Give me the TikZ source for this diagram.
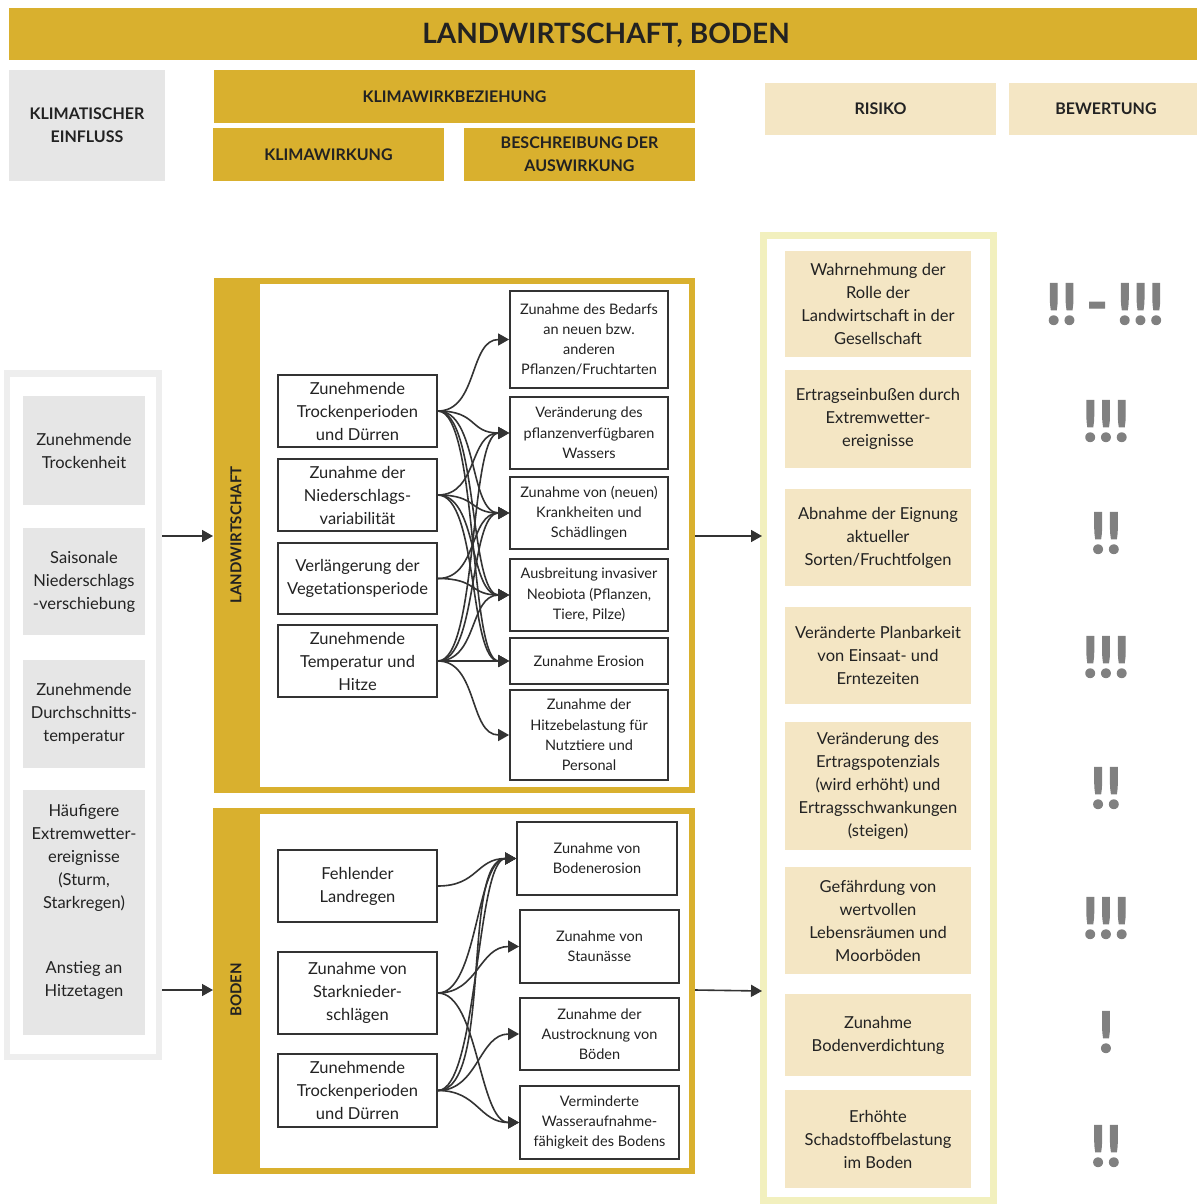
\documentclass[tikz,border=0pt]{standalone}
\usepackage{fontspec}
\setmainfont{Lato}
\newfontfamily\markfont[BoldFeatures={FakeBold=2.5}]{Lato}
\usetikzlibrary{arrows.meta}
\definecolor{gold}{RGB}{217,176,46}
\definecolor{graybox}{RGB}{230,230,230}
\definecolor{grayframe}{RGB}{238,238,238}
\definecolor{beige}{RGB}{244,230,196}
\definecolor{paleyellow}{RGB}{242,240,190}
\definecolor{txt}{RGB}{34,34,34}
\definecolor{lineclr}{RGB}{51,51,51}
\definecolor{mark}{RGB}{128,128,128}
\newcommand\myconn[2]{\draw[conn] (#1.east) .. controls +(40,0) and +(-40,0) .. (#2.west);}
\begin{document}
\begin{tikzpicture}[x=1pt,y=-1pt,
  hdr/.style={font=\bfseries\fontsize{16}{23}\selectfont, text=txt, align=center},
  ibox/.style={draw=lineclr, line width=1.8pt, fill=white, align=center, inner sep=2pt, text=txt, font=\fontsize{16.5}{23}\selectfont, minimum width=159pt},
  sbox/.style={draw=lineclr, line width=1.8pt, fill=white, align=center, inner sep=2pt, text=txt, font=\fontsize{14.5}{20.3}\selectfont, minimum width=158pt},
  gbox/.style={fill=graybox, align=center, text=txt, font=\fontsize{16.5}{23}\selectfont},
  rbox/.style={fill=beige, align=center, text=txt, font=\fontsize{16.5}{23}\selectfont, minimum width=186pt},
  mk/.style={text=mark, font=\markfont\bfseries\fontsize{56}{60}\selectfont, inner sep=0pt},
  conn/.style={draw=lineclr, line width=1.6pt, -{Triangle[length=11pt,width=12pt]}}
]
\useasboundingbox (0,0) rectangle (1197,1204);
% title
\fill[gold] (9,8) rectangle (1197,60);
\node[text=txt, font=\bfseries\fontsize{28}{30}\selectfont] (title) at (606,35) {LANDWIRTSCHAFT, BODEN};
% header row
\fill[graybox] (9,70) rectangle (165,181);
\node[hdr] (hkl) at (87,125.5) {KLIMATISCHER\\EINFLUSS};
\fill[gold] (214,70) rectangle (695,123);
\node[hdr] (hkwb) at (454.5,96.5) {KLIMAWIRKBEZIEHUNG};
\fill[gold] (213,128) rectangle (444,181);
\node[hdr] (hkw) at (328.5,154.5) {KLIMAWIRKUNG};
\fill[gold] (464,128) rectangle (695,181);
\node[hdr] (hbes) at (579.5,154.5) {BESCHREIBUNG DER\\AUSWIRKUNG};
\fill[beige] (765,83) rectangle (996,135);
\node[hdr] (hris) at (880.5,109) {RISIKO};
\fill[beige] (1009,83) rectangle (1197,135);
\node[hdr] (hbew) at (1106,109) {BEWERTUNG};

% left frame
\fill[grayframe] (4,370) rectangle (162,1060);
\fill[white] (10,377) rectangle (156,1054);
\node[gbox, minimum width=122pt, minimum height=109pt] (k1) at (84,450.5) {Zunehmende\\Trockenheit};
\node[gbox, minimum width=122pt, minimum height=107pt] (k2) at (84,581.5) {Saisonale\\Niederschlags\\-verschiebung};
\node[gbox, minimum width=122pt, minimum height=108pt] (k3) at (84,714) {Zunehmende\\Durchschnitts-\\temperatur};
\fill[graybox] (23,790) rectangle (145,1035);
\node[gbox] (k4) at (84,858) {Häufigere\\Extremwetter-\\ereignisse\\(Sturm,\\Starkregen)};
\node[gbox] (k5) at (84,980) {Anstieg an\\Hitzetagen};
\coordinate (a1s) at (162,536);
\coordinate (a2s) at (162,990);
\coordinate (a1e) at (213,536);
\coordinate (a2e) at (213,990);
\draw[conn] (a1s) -- (a1e);
\draw[conn] (a2s) -- (a2e);

% Landwirtschaft frame
\fill[gold] (214,278) rectangle (695,793);
\fill[white] (260,284) rectangle (689,787);
\node[hdr, rotate=90, font=\bfseries\fontsize{15}{18}\selectfont] (lw) at (236,535) {LANDWIRTSCHAFT};
% Boden frame
\fill[gold] (213,808) rectangle (695,1174);
\fill[white] (260,814) rectangle (689,1168);
\node[hdr, rotate=90, font=\bfseries\fontsize{15}{18}\selectfont] (bo) at (236,990) {BODEN};

% right frame
\fill[paleyellow] (760,232) rectangle (997,1204);
\fill[white] (767,239) rectangle (990,1197);
\coordinate (a3s) at (695,536);
\coordinate (a3e) at (762,536);
\coordinate (a4s) at (695,990);
\coordinate (a4e) at (762,991);
\draw[conn] (a3s) -- (a3e);
\draw[conn] (a4s) -- (a4e);

% landwirtschaft nodes
\node[ibox, minimum height=72pt] (L1) at (357.5,411) {Zunehmende\\Trockenperioden\\und Dürren};
\node[ibox, minimum height=72pt] (L2) at (357.5,495) {Zunahme der\\Niederschlags-\\variabilität};
\node[ibox, minimum height=71pt] (L3) at (357.5,578.5) {Verlängerung der\\Vegetationsperiode};
\node[ibox, minimum height=72pt] (L4) at (357.5,661) {Zunehmende\\Temperatur und\\Hitze};
\node[sbox, minimum height=97pt] (R1) at (589,339.5) {Zunahme des Bedarfs\\an neuen bzw.\\anderen\\Pflanzen/Fruchtarten};
\node[sbox, minimum height=72pt] (R2) at (589,433) {Veränderung des\\pflanzenverfügbaren\\Wassers};
\node[sbox, minimum height=72pt] (R3) at (589,513) {Zunahme von (neuen)\\Krankheiten und\\Schädlingen};
\node[sbox, minimum height=72pt] (R4) at (589,595) {Ausbreitung invasiver\\Neobiota (Pflanzen,\\Tiere, Pilze)};
\node[sbox, minimum height=46pt] (R5) at (589,661) {Zunahme Erosion};
\node[sbox, minimum height=90pt] (R6) at (589,735) {Zunahme der\\Hitzebelastung für\\Nutztiere und\\Personal};

\myconn{L1}{R1}
\myconn{L1}{R2}
\myconn{L1}{R3}
\myconn{L1}{R4}
\myconn{L1}{R5}
\myconn{L2}{R2}
\myconn{L2}{R3}
\myconn{L2}{R4}
\myconn{L2}{R5}
\myconn{L3}{R3}
\myconn{L3}{R4}
\myconn{L4}{R2}
\myconn{L4}{R3}
\myconn{L4}{R4}
\myconn{L4}{R5}
\myconn{L4}{R6}

% boden nodes
\node[ibox, minimum height=72pt] (B1) at (357.5,886) {Fehlender\\Landregen};
\node[ibox, minimum height=82pt] (B2) at (357.5,993) {Zunahme von\\Starknieder-\\schlägen};
\node[ibox, minimum height=73pt] (B3) at (357.5,1090.5) {Zunehmende\\Trockenperioden\\und Dürren};
\node[sbox, minimum width=160pt, minimum height=73pt] (C1) at (597,858.5) {Zunahme von\\Bodenerosion};
\node[sbox, minimum width=159pt, minimum height=73pt] (C2) at (599.5,946.5) {Zunahme von\\Staunässe};
\node[sbox, minimum width=159pt, minimum height=72pt] (C3) at (599.5,1034) {Zunahme der\\Austrocknung von\\Böden};
\node[sbox, minimum width=159pt, minimum height=73pt] (C4) at (599.5,1122.5) {Verminderte\\Wasseraufnahme-\\fähigkeit des Bodens};

\myconn{B1}{C1}
\myconn{B2}{C1}
\myconn{B2}{C2}
\myconn{B2}{C4}
\myconn{B3}{C1}
\draw[conn] (B3.east) .. controls +(55,0) and +(-55,0) .. (C1.west);
\myconn{B3}{C3}
\myconn{B3}{C4}

% risk boxes
\node[rbox, minimum height=106pt] (r1) at (878,304) {Wahrnehmung der\\Rolle der\\Landwirtschaft in der\\Gesellschaft};
\node[rbox, minimum height=98pt] (r2) at (878,419) {Ertragseinbußen durch\\Extremwetter-\\ereignisse};
\node[rbox, minimum height=97pt] (r3) at (878,537.5) {Abnahme der Eignung\\aktueller\\Sorten/Fruchtfolgen};
\node[rbox, minimum height=97pt] (r4) at (878,655.5) {Veränderte Planbarkeit\\von Einsaat- und\\Erntezeiten};
\node[rbox, minimum height=128pt] (r5) at (878,786) {Veränderung des\\Ertragspotenzials\\(wird erhöht) und\\Ertragsschwankungen\\(steigen)};
\node[rbox, minimum height=107pt] (r6) at (878,920.5) {Gefährdung von\\wertvollen\\Lebensräumen und\\Moorböden};
\node[rbox, minimum height=82pt] (r7) at (878,1035) {Zunahme\\Bodenverdichtung};
\node[rbox, minimum height=98pt] (r8) at (878,1139) {Erhöhte\\Schadstoffbelastung\\im Boden};

% ratings
\node[mk] (m1) at (1105,304) {!!\,\raisebox{2pt}{-}\,!!!};
\node[mk] (m2) at (1106,421) {!!!};
\node[mk] (m3) at (1106,533) {!!};
\node[mk] (m4) at (1106,657) {!!!};
\node[mk] (m5) at (1106,788) {!!};
\node[mk] (m6) at (1106,918) {!!!};
\node[mk] (m7) at (1106,1032) {!};
\node[mk] (m8) at (1106,1146) {!!};
\end{tikzpicture}
\end{document}
